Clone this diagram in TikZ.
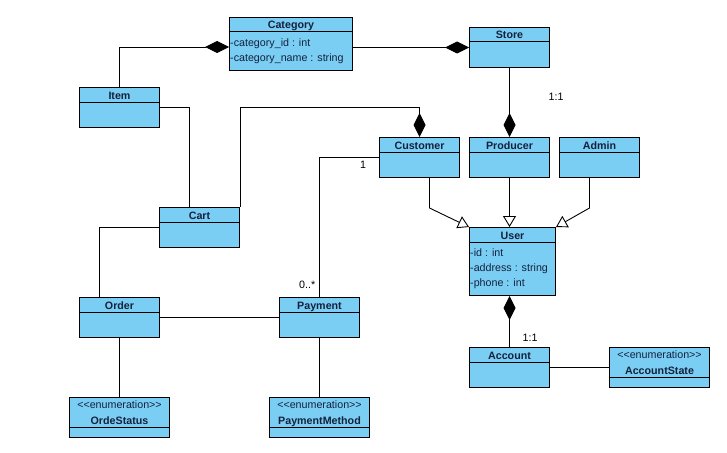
\documentclass[tikz,border=0pt]{standalone}
\usepackage{fontspec}
\newfontfamily\umlfont{Liberation Sans}
\usepackage{tikz}
\usetikzlibrary{arrows.meta, positioning, calc}
\definecolor{ClassFill}{HTML}{7ACEF4}
\definecolor{ClassInk}{HTML}{14213D}

\tikzset{
  classbox/.style={draw=black, fill=ClassFill, line width=1pt, inner sep=0pt, anchor=north west},
  classname/.style={anchor=base, font=\umlfont\bfseries\fontsize{10.7}{12}\selectfont, text=ClassInk, inner sep=0pt},
  attr/.style={anchor=base west, font=\umlfont\fontsize{10.7}{12}\selectfont, text=ClassInk, inner sep=0pt},
  stereo/.style={anchor=base, font=\umlfont\fontsize{10.7}{12}\selectfont, text=ClassInk, inner sep=0pt},
  mult/.style={font=\umlfont\fontsize{10.7}{12}\selectfont, inner sep=0pt},
  assoc/.style={line width=0.9pt},
  comp/.style={assoc, {Diamond[length=24pt, width=12pt]}-},
  gen/.style={assoc, -{Triangle[open, length=11pt, width=13pt, line width=0.9pt]}},
}

% class box: name, x, y, width, height, title
\newcommand{\umlclass}[6]{%
  \node[classbox, minimum width=#4pt, minimum height=#5pt] (#1) at (#2,#3) {};
  \node[classname] (#1-title) at ([yshift=-12pt]#1.north) {#6};
  \draw[line width=1pt] ([yshift=-15pt]#1.north west) -- ([yshift=-15pt]#1.north east);
}
% enumeration box: name, x, y, title
\newcommand{\umlenum}[4]{%
  \node[classbox, minimum width=100pt, minimum height=40pt] (#1) at (#2,#3) {};
  \node[stereo] (#1-stereo) at ([yshift=-11pt]#1.north) {<<enumeration>>};
  \node[classname] (#1-title) at ([yshift=-27pt]#1.north) {#4};
  \draw[line width=1pt] ([yshift=-30.5pt]#1.north west) -- ([yshift=-30.5pt]#1.north east);
}

\begin{document}
\begin{tikzpicture}[x=1pt, y=-1pt]
  \useasboundingbox (0,0) rectangle (727,452);

  % classes
  \umlclass{category}{229}{17}{123}{53}{Category}
  \node[attr] (category-a1) at ([xshift=1pt, yshift=-29pt]category.north west) {-category\_id : int};
  \node[attr] (category-a2) at ([xshift=1pt, yshift=-44pt]category.north west) {-category\_name : string};
  \umlclass{store}{469}{27}{80}{40}{Store}
  \umlclass{item}{79}{87}{80}{40}{Item}
  \umlclass{customer}{379}{137}{80}{40}{Customer}
  \umlclass{producer}{469}{137}{80}{40}{Producer}
  \umlclass{admin}{559}{137}{80}{40}{Admin}
  \umlclass{cart}{159}{207}{80}{40}{Cart}
  \umlclass{user}{469}{227}{86}{68}{User}
  \node[attr] (user-a1) at ([xshift=1pt, yshift=-29pt]user.north west) {-id : int};
  \node[attr] (user-a2) at ([xshift=1pt, yshift=-44pt]user.north west) {-address : string};
  \node[attr] (user-a3) at ([xshift=1pt, yshift=-59pt]user.north west) {-phone : int};
  \umlclass{order}{79}{297}{80}{40}{Order}
  \umlclass{payment}{279}{297}{80}{40}{Payment}
  \umlclass{account}{469}{347}{80}{40}{Account}

  % enumerations
  \umlenum{accountstate}{609}{347}{AccountState}
  \umlenum{ordestatus}{69}{397}{OrdeStatus}
  \umlenum{paymentmethod}{269}{397}{PaymentMethod}

  % compositions
  \draw[comp] ([yshift=-30pt]category.north west) -| (item.north);
  \draw[comp] (store.west) -- (category.east |- store.west);
  \draw[comp] (producer.north) -- (store.south);
  \draw[comp] (customer.north) -- ++(0,-30) -| (cart.north east);
  \draw[comp] (user.south -| account.north) -- (account.north);

  % associations
  \draw[assoc] (item.east) -| ([xshift=-10pt]cart.north);
  \draw[assoc] (customer.west) -| (payment.north);
  \draw[assoc] (cart.west) -| ([xshift=-20pt]order.north);
  \draw[assoc] (order.east) -- (payment.west);
  \draw[assoc] (order.south) -- (ordestatus.north);
  \draw[assoc] (payment.south) -- (paymentmethod.north);
  \draw[assoc] (account.east) -- (accountstate.west);

  % generalizations
  \draw[gen] ([xshift=10pt]customer.south) -- ++(0,30) -- (user.north west);
  \draw[gen] (producer.south) -- (producer.south |- user.north);
  \draw[gen] ([xshift=-10pt]admin.south) -- ++(0,30) -- (user.north east);

  % multiplicities
  \node[mult, anchor=base west] (m-store) at ([xshift=39pt, yshift=-32pt]store.south) {1:1};
  \node[mult, anchor=base west] (m-customer) at ([xshift=-19pt, yshift=-11pt]customer.west) {1};
  \node[mult, anchor=base east] (m-payment) at ([xshift=-4pt, yshift=9pt]payment.north) {0..*};
  \node[mult, anchor=base west] (m-account) at ([xshift=13pt, yshift=6pt]account.north) {1:1};
\end{tikzpicture}
\end{document}
